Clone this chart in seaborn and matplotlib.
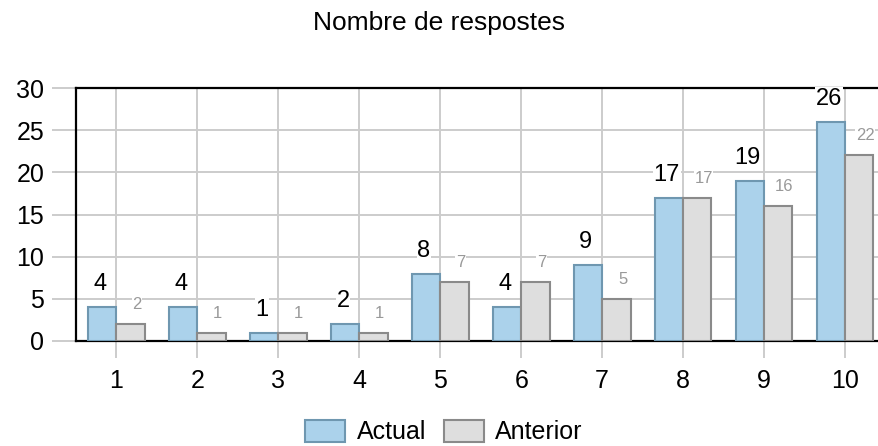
import pandas as pd
import matplotlib.pyplot as plt
import seaborn as sns
from matplotlib.patches import Patch

categories = ['1', '2', '3', '4', '5', '6', '7', '8', '9', '10']
actual = [4, 4, 1, 2, 8, 4, 9, 17, 19, 26]
anterior = [2, 1, 1, 1, 7, 7, 5, 17, 16, 22]

df = pd.DataFrame({
    'puntuacio': categories * 2,
    'respostes': actual + anterior,
    'serie': ['Actual'] * len(categories) + ['Anterior'] * len(categories),
})

sns.set_theme(style="white", rc={'text.color': 'black', 'xtick.color': 'black',
                                 'ytick.color': 'black'})
plt.rcParams['font.family'] = ['Liberation Sans', 'DejaVu Sans']

blue, blue_edge = '#abd2eb', '#6f97b0'
grey, grey_edge = '#dedede', '#8a8a8a'

fig = plt.figure(figsize=(8.79, 4.46), dpi=100)
ax = fig.add_axes([76 / 879, 105 / 446, 809.5 / 879, 253 / 446])

sns.barplot(data=df, x='puntuacio', y='respostes', hue='serie', order=categories,
            palette=[blue, grey], width=0.7, saturation=1, ax=ax, legend=False, zorder=3)
for bar in ax.patches[:len(categories)]:
    bar.set_edgecolor(blue_edge)
    bar.set_linewidth(1.5)
for bar in ax.patches[len(categories):2 * len(categories)]:
    bar.set_edgecolor(grey_edge)
    bar.set_linewidth(1.5)

ax.set_ylim(0, 30)
ax.set_xlim(-0.5, len(categories) - 0.5)
ax.set_yticks(range(0, 31, 5))
ax.grid(True, color='#cccccc', linewidth=1.4, zorder=0)
ax.set_axisbelow(True)
ax.tick_params(axis='both', bottom=True, left=True, width=1.4, color='#cccccc',
               labelsize=18, labelcolor='black')
ax.tick_params(axis='y', length=17.3, pad=5.5)
ax.tick_params(axis='x', length=12.2, pad=8)
ax.set_xlabel('')
ax.set_ylabel('')
for side in ['left', 'top', 'bottom']:
    ax.spines[side].set_color('black')
    ax.spines[side].set_linewidth(1.6)
ax.spines['right'].set_visible(False)

box = dict(facecolor='white', edgecolor='none', pad=0.5)
for i, (a, b) in enumerate(zip(actual, anterior)):
    ax.annotate(str(a), (i - 0.175, a), xytext=(-1.5, 12.2), textcoords='offset points',
                ha='center', va='baseline', fontsize=17, color='black', bbox=box, zorder=5,
                annotation_clip=False)
    ax.annotate(str(b), (i + 0.175, b), xytext=(4.5, 10.8), textcoords='offset points',
                ha='center', va='baseline', fontsize=12, color='#999999', bbox=box, zorder=5,
                annotation_clip=False)

fig.suptitle('Nombre de respostes', y=0.975, va='top', fontsize=19, color='black')

handles = [Patch(facecolor=blue, edgecolor=blue_edge, linewidth=1.5, label='Actual'),
           Patch(facecolor=grey, edgecolor=grey_edge, linewidth=1.5, label='Anterior')]
fig.legend(handles=handles, loc='center', bbox_to_anchor=(0.505, 0.031), ncol=2, frameon=False,
           fontsize=18, handlelength=1.6, handleheight=0.96, columnspacing=0.72, handletextpad=0.45,
           borderpad=0.1, labelcolor='black')

plt.savefig('out.png', dpi=100)
